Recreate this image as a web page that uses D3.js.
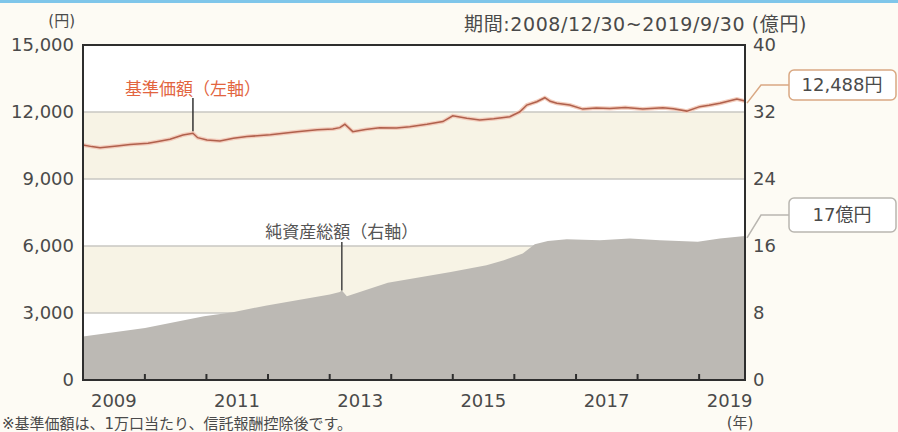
<!DOCTYPE html>
<html>
<head>
<meta charset="utf-8">
<script src="https://cdn.jsdelivr.net/npm/d3@7.9.0/dist/d3.min.js"></script>
<style>
  html, body { margin: 0; padding: 0; background: #fdfbf4; }
  svg { display: block; }
  text { font-family: "DejaVu Sans", "Noto Sans CJK JP", sans-serif; fill: #4a4a4a; }
</style>
</head>
<body>
<div id="chart"></div>
<script>
// 基準価額 (left axis, 円)
const navDates = ["2008-12-30","2009-02-20","2009-04-10","2009-07-20","2009-10-05","2010-01-20","2010-03-20","2010-05-30",
  "2010-08-15","2010-10-13","2010-11-10","2011-01-04","2011-03-22","2011-06-10","2011-08-29","2012-01-15","2012-06-21",
  "2012-10-20","2013-01-20","2013-03-02","2013-04-01","2013-05-18","2013-08-01","2013-10-25","2014-02-01","2014-04-21",
  "2014-08-01","2014-11-03","2015-01-01","2015-03-25","2015-06-10","2015-09-01","2015-12-05","2016-02-03","2016-03-15",
  "2016-05-13","2016-06-30","2016-08-01","2016-09-09","2016-11-25","2017-02-10","2017-05-01","2017-07-20","2017-10-20",
  "2018-02-01","2018-05-31","2018-08-01","2018-10-20","2019-01-05","2019-03-01","2019-05-04","2019-08-13","2019-09-30"];
const navValues = [10520,10450,10400,10480,10550,10600,10680,10780,10970,11050,10850,10750,10700,10820,10900,10980,11120,
  11200,11240,11300,11450,11120,11220,11300,11280,11340,11450,11570,11830,11720,11640,11700,11790,12010,12310,
  12460,12640,12480,12390,12310,12130,12180,12160,12200,12130,12190,12150,12040,12240,12300,12390,12580,12488];

// 純資産総額 (right axis, 億円)
const assetDates = ["2008-12-30","2010-01-02","2010-12-18","2011-06-07","2011-12-25","2013-01-02","2013-03-02","2013-03-14",
  "2013-04-13","2013-12-12","2014-12-20","2015-07-20","2015-10-31","2016-02-20","2016-05-01","2016-07-18","2016-11-07",
  "2017-05-22","2017-11-16","2018-05-13","2018-12-24","2019-05-04","2019-09-30"];
const assetValues = [5.2,6.2,7.6,8.1,8.9,10.2,10.5,10.7,10.0,11.6,12.9,13.7,14.3,15.1,16.2,16.6,16.8,16.7,16.9,16.7,16.5,16.9,17.2];

const leftTicks = [0, 3000, 6000, 9000, 12000, 15000];
const rightTicks = [0, 8, 16, 24, 32, 40];
const yearTicks = ["2010","2011","2012","2013","2014","2015","2016","2017","2018","2019"];
const yearLabels = ["2009","2011","2013","2015","2017","2019"];

const width = 898, height = 432;
const parse = d3.timeParse("%Y-%m-%d");
const nav = navDates.map((d, i) => ({ date: parse(d), value: navValues[i] }));
const assets = assetDates.map((d, i) => ({ date: parse(d), value: assetValues[i] }));

const x = d3.scaleTime().domain([parse("2008-12-30"), parse("2019-09-30")]).range([83, 745]);
const yL = d3.scaleLinear().domain([0, 15000]).range([380, 45]);
const yR = d3.scaleLinear().domain([0, 40]).range([380, 45]);

const svg = d3.select("#chart").append("svg")
  .attr("width", width).attr("height", height);

svg.append("rect").attr("x", 0).attr("y", 0).attr("width", width).attr("height", height).attr("fill", "#fdfbf4");
svg.append("rect").attr("x", 0).attr("y", 0).attr("width", width).attr("height", 3).attr("fill", "#7fc6ea");

// alternating bands
leftTicks.slice(0, -1).forEach((t, i) => {
  svg.append("rect")
    .attr("x", x.range()[0]).attr("width", x.range()[1] - x.range()[0])
    .attr("y", yL(t + 3000)).attr("height", yL(t) - yL(t + 3000))
    .attr("fill", i % 2 ? "#f7f3e5" : "#ffffff");
});

// grid
svg.append("g").selectAll("line").data(leftTicks.slice(1, -1)).join("line")
  .attr("x1", 83).attr("x2", 745)
  .attr("y1", d => yL(d)).attr("y2", d => yL(d))
  .attr("stroke", "#c9c7c2").attr("stroke-width", 1.5);

// net assets area
svg.append("path").datum(assets)
  .attr("fill", "#bcb9b4")
  .attr("d", d3.area().x(d => x(d.date)).y0(yR(0)).y1(d => yR(d.value)));

// NAV line
const navLine = d3.line().x(d => x(d.date)).y(d => yL(d.value));
svg.append("path").datum(nav)
  .attr("fill", "none").attr("stroke", "#f3cdbd").attr("stroke-width", 4)
  .attr("d", navLine);
svg.append("path").datum(nav)
  .attr("fill", "none").attr("stroke", "#b0604c").attr("stroke-width", 1.5)
  .attr("d", navLine);

// frame
svg.append("rect").attr("x", 83).attr("y", 45).attr("width", 662).attr("height", 335)
  .attr("fill", "none").attr("stroke", "#2e2e2e").attr("stroke-width", 2);

// year ticks
svg.append("g").selectAll("line").data(yearTicks).join("line")
  .attr("x1", d => x(parse(d + "-01-01"))).attr("x2", d => x(parse(d + "-01-01")))
  .attr("y1", 374).attr("y2", 380)
  .attr("stroke", "#2e2e2e").attr("stroke-width", 2);

// axis labels
svg.append("g").selectAll("text").data(leftTicks).join("text")
  .attr("x", 74).attr("y", d => yL(d)).attr("dy", "0.36em")
  .attr("text-anchor", "end").attr("font-size", 18)
  .text(d => d3.format(",")(d));
svg.append("g").selectAll("text").data(rightTicks).join("text")
  .attr("x", 753).attr("y", d => yR(d)).attr("dy", "0.36em")
  .attr("font-size", 18)
  .text(d => d);
svg.append("g").selectAll("text").data(yearLabels).join("text")
  .attr("x", d => x(parse(d + "-07-01"))).attr("y", 407)
  .attr("text-anchor", "middle").attr("font-size", 18)
  .text(d => d);

svg.append("text").attr("x", 75).attr("y", 26).attr("text-anchor", "end").attr("font-size", 15).text("(円)");
svg.append("text").attr("x", 740).attr("y", 428).attr("text-anchor", "middle").attr("font-size", 15).text("(年)");
svg.append("text").attr("x", 807).attr("y", 31).attr("text-anchor", "end").attr("font-size", 19)
  .attr("letter-spacing", 0.6)
  .text("期間:2008/12/30~2019/9/30 (億円)");

// series labels
const navSpike = nav[9];
svg.append("line")
  .attr("x1", x(navSpike.date)).attr("x2", x(navSpike.date))
  .attr("y1", 98).attr("y2", yL(navSpike.value) - 2)
  .attr("stroke", "#333").attr("stroke-width", 1.5);
svg.append("text").attr("x", x(navSpike.date)).attr("y", 95).attr("text-anchor", "middle")
  .attr("font-size", 17).style("fill", "#e2653f").text("基準価額（左軸）");

const assetSpike = assets[7];
svg.append("line")
  .attr("x1", x(assetSpike.date)).attr("x2", x(assetSpike.date))
  .attr("y1", 242).attr("y2", yR(assetSpike.value))
  .attr("stroke", "#444").attr("stroke-width", 1.5);
svg.append("text").attr("x", x(assetSpike.date)).attr("y", 238).attr("text-anchor", "middle")
  .attr("font-size", 17).style("fill", "#555").text("純資産総額（右軸）");

// callouts
function callout(yPoint, yBox, h, label, color) {
  svg.append("path")
    .attr("d", `M747,${yPoint} L761,${yBox} L789,${yBox}`)
    .attr("fill", "none").attr("stroke", color).attr("stroke-width", 1.5);
  svg.append("rect").attr("x", 789).attr("y", yBox - h / 2).attr("width", 107).attr("height", h)
    .attr("rx", 5).attr("fill", "#ffffff").attr("stroke", color).attr("stroke-width", 1.5);
  svg.append("text").attr("x", 842).attr("y", yBox).attr("dy", "0.36em").attr("text-anchor", "middle")
    .attr("font-size", 18).style("fill", "#4a4a4a").text(label);
}
callout(yL(navValues[navValues.length - 1]) + 2, 85, 30, "12,488円", "#d9a883");
callout(yR(assetValues[assetValues.length - 1]) + 2, 215, 34, "17億円", "#b9b6b0");

// footnote
svg.append("text").attr("x", 2).attr("y", 429).attr("font-size", 15)
  .text("※基準価額は、1万口当たり、信託報酬控除後です。");
</script>
</body>
</html>
